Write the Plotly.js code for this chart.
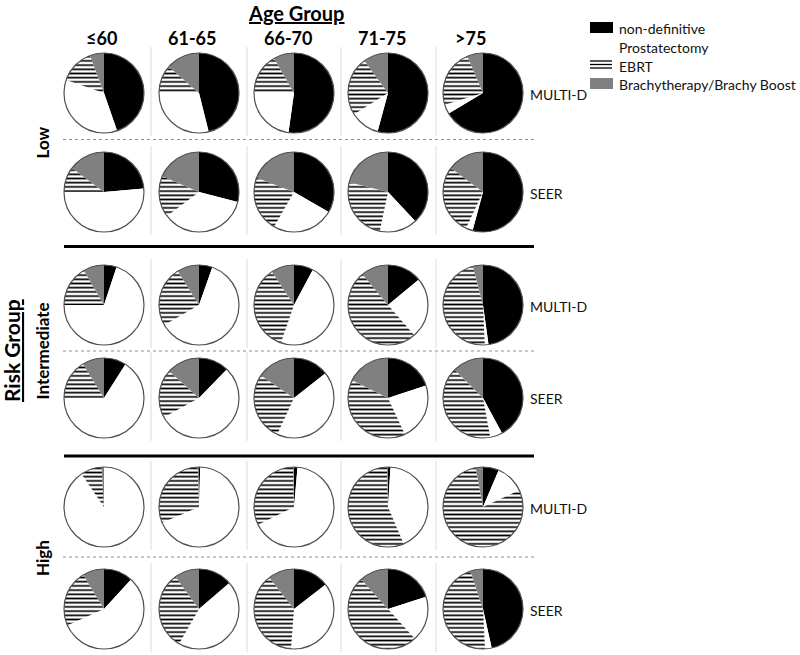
<!DOCTYPE html>
<html><head><meta charset="utf-8">
<script src="https://cdn.plot.ly/plotly-3.0.1.min.js"></script>
<style>html,body{margin:0;padding:0;background:#fff;}#chart{width:800px;height:655px;}</style>
</head><body><div id="chart"></div>
<script>
// ---- data ----
const ageGroups = ['≤60', '61-65', '66-70', '71-75', '>75'];
const riskGroups = ['Low', 'Intermediate', 'High'];
const sources = ['MULTI-D', 'SEER'];
const treatments = ['non-definitive', 'Prostatectomy', 'EBRT', 'Brachytherapy/Brachy Boost'];
// rows: Low MULTI-D, Low SEER, Intermediate MULTI-D, Intermediate SEER, High MULTI-D, High SEER
// columns follow ageGroups (percent)
const nonDefinitive = [
  [44.7, 46.1, 52.2, 54.2, 66.4],
  [23.6, 29.0, 33.3, 38.0, 54.2],
  [5.1, 5.4, 7.8, 14.0, 47.8],
  [9.0, 12.3, 14.4, 19.9, 42.1],
  [0.0, 0.5, 1.4, 1.0, 6.4],
  [11.8, 13.7, 14.5, 20.0, 46.5]
];
const prostatectomy = [
  [35.6, 28.9, 22.8, 11.9, 3.9],
  [51.4, 35.7, 25.0, 15.3, 2.8],
  [69.9, 61.3, 47.5, 24.6, 1.5],
  [66.0, 54.7, 42.5, 23.2, 5.0],
  [90.5, 68.1, 66.3, 42.6, 11.7],
  [56.5, 44.6, 36.7, 18.3, 2.7]
];
const ebrt = [
  [14.0, 11.4, 16.7, 23.9, 23.3],
  [10.3, 16.7, 22.5, 25.6, 28.3],
  [16.6, 24.4, 35.4, 50.4, 46.6],
  [16.2, 19.7, 27.6, 39.2, 40.4],
  [8.5, 30.9, 32.0, 56.0, 79.0],
  [23.0, 31.7, 38.2, 50.0, 45.7]
];
const brachy = [
  [5.7, 13.6, 8.3, 10.0, 6.4],
  [14.7, 18.6, 19.2, 21.1, 14.7],
  [8.4, 8.9, 9.3, 11.0, 4.1],
  [8.8, 13.3, 15.5, 17.7, 12.5],
  [1.0, 0.5, 0.3, 0.4, 2.9],
  [8.7, 10.0, 10.6, 11.7, 5.1]
];

// ---- layout geometry ----
const W = 800, H = 655;
const colX = [104, 199, 294, 388, 483];
const rowY = [93, 192, 305, 398, 507, 609];
const R = 40;
const px = x => x / W;
const py = y => 1 - y / H;

const sliceColors = ['#000000', '#ffffff', '#ffffff', '#808080'];
const FONT = 'Lato, "Open Sans", sans-serif';

const traces = [];
const shapes = [];
const annotations = [];

rowY.forEach((cy, r) => {
  colX.forEach((cx, c) => {
    traces.push({
      type: 'pie',
      labels: treatments,
      values: [nonDefinitive[r][c], prostatectomy[r][c], ebrt[r][c], brachy[r][c]],
      sort: false,
      direction: 'clockwise',
      rotation: 0,
      textinfo: 'none',
      hoverinfo: 'label+percent',
      showlegend: false,
      domain: {x: [px(cx - R), px(cx + R)], y: [py(cy + R), py(cy - R)]},
      marker: {
        colors: sliceColors,
        line: {width: 0},
        pattern: {shape: ['', '', '-', ''], fgcolor: '#000000', bgcolor: '#ffffff', size: 4.2, solidity: 0.4}
      }
    });
    shapes.push({type: 'circle', xref: 'paper', yref: 'paper',
      x0: px(cx - R), x1: px(cx + R), y0: py(cy + R), y1: py(cy - R),
      line: {color: '#505050', width: 1.2}, fillcolor: 'rgba(0,0,0,0)'});
  });
  // vertical separators between columns
  [151, 247, 341, 436].forEach(sx => {
    shapes.push({type: 'line', xref: 'paper', yref: 'paper',
      x0: px(sx), x1: px(sx), y0: py(cy - 46), y1: py(cy + 43),
      line: {color: '#dcdcdc', width: 1}});
  });
  // source label
  annotations.push({xref: 'paper', yref: 'paper', x: px(528), y: py(cy + 1),
    xanchor: 'left', yanchor: 'middle', showarrow: false,
    text: sources[r % 2], font: {family: FONT, size: 14, color: '#111'}});
});

// dotted separators (MULTI-D / SEER)
[139.5, 351, 557].forEach(y => {
  shapes.push({type: 'line', xref: 'paper', yref: 'paper',
    x0: px(63), x1: px(535), y0: py(y), y1: py(y),
    line: {color: '#8c8c8c', width: 1, dash: 'dot'}});
});
// thick separators between risk groups
[246.5, 456].forEach(y => {
  shapes.push({type: 'line', xref: 'paper', yref: 'paper',
    x0: px(64), x1: px(534), y0: py(y), y1: py(y),
    line: {color: '#000', width: 3}});
});

// titles
annotations.push({xref: 'paper', yref: 'paper', x: px(296), y: 1,
  xanchor: 'center', yanchor: 'top', showarrow: false, borderpad: 0,
  text: '<b><u>Age Group</u></b>', font: {family: FONT, size: 20, color: '#000'}});
annotations.push({xref: 'paper', yref: 'paper', x: px(11), y: py(351),
  xanchor: 'center', yanchor: 'middle', showarrow: false, textangle: -90,
  text: '<b><u>Risk Group</u></b>', font: {family: FONT, size: 21, color: '#000'}});

// column headers
const headerX = [101, 192, 288, 382, 470];
ageGroups.forEach((g, i) => {
  annotations.push({xref: 'paper', yref: 'paper', x: px(headerX[i]), y: py(38),
    xanchor: 'center', yanchor: 'middle', showarrow: false,
    text: '<b>' + g + '</b>', font: {family: FONT, size: 18, color: '#000'}});
});

// risk group labels
riskGroups.forEach((g, i) => {
  const cy = (rowY[2 * i] + rowY[2 * i + 1]) / 2;
  annotations.push({xref: 'paper', yref: 'paper', x: px(42), y: py(cy),
    xanchor: 'center', yanchor: 'middle', showarrow: false, textangle: -90,
    text: '<b>' + g + '</b>', font: {family: FONT, size: 17, color: '#000'}});
});

// custom legend
const legY = [28, 47, 66, 84];
shapes.push({type: 'rect', xref: 'paper', yref: 'paper', x0: px(590), x1: px(613), y0: py(33), y1: py(22),
  fillcolor: '#000', line: {width: 0}});
[61, 64.5, 68].forEach(y => shapes.push({type: 'line', xref: 'paper', yref: 'paper',
  x0: px(590), x1: px(612), y0: py(y), y1: py(y), line: {color: '#000', width: 1.3}}));
shapes.push({type: 'rect', xref: 'paper', yref: 'paper', x0: px(590), x1: px(613), y0: py(89), y1: py(78),
  fillcolor: '#808080', line: {width: 0}});
treatments.forEach((t, i) => {
  annotations.push({xref: 'paper', yref: 'paper', x: px(617), y: py(legY[i]),
    xanchor: 'left', yanchor: 'middle', showarrow: false,
    text: t, font: {family: FONT, size: 14, color: '#111'}});
});

const layout = {
  width: W, height: H,
  margin: {l: 0, r: 0, t: 0, b: 0},
  paper_bgcolor: '#fff', plot_bgcolor: '#fff',
  showlegend: false,
  shapes: shapes,
  annotations: annotations
};

Plotly.newPlot('chart', traces, layout, {displayModeBar: false, staticPlot: true});
</script>
</body></html>
